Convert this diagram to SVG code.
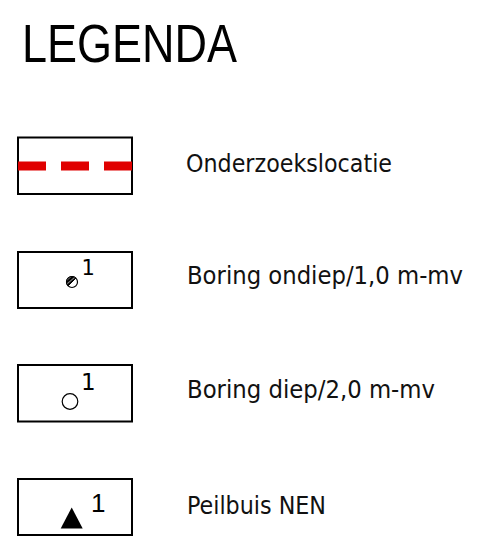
<svg xmlns="http://www.w3.org/2000/svg" width="477" height="540" viewBox="0 0 477 540">
  <defs>
    <style>
      .box { fill: #ffffff; stroke: #000000; stroke-width: 2; }
      .label { font-family: "DejaVu Sans Condensed", "DejaVu Sans", Verdana, sans-serif; font-stretch: condensed; font-size: 25px; fill: #111111; }
      .num { font-family: "DejaVu Sans", Verdana, sans-serif; font-size: 21px; fill: #000000; }
      .title { font-family: "Liberation Sans", Arial, sans-serif; font-size: 54px; fill: #000000; }
    </style>
    <pattern id="hatch" width="3" height="3" patternUnits="userSpaceOnUse" patternTransform="rotate(-40)">
      <rect width="3" height="3" fill="#000000"/>
      <line x1="0" y1="2.6" x2="3" y2="2.6" stroke="#ffffff" stroke-width="0.6"/>
    </pattern>
  </defs>
  <rect width="477" height="540" fill="#ffffff"/>

  <text class="title" x="22" y="62" textLength="215" lengthAdjust="spacingAndGlyphs">LEGENDA</text>

  <!-- survey area boundary -->
  <g id="onderzoekslocatie">
    <rect class="box" x="18" y="137.5" width="114" height="56.5"/>
    <line x1="18" y1="166" x2="132" y2="166" stroke="#e00000" stroke-width="9" stroke-dasharray="28 15"/>
    <text class="label" x="186" y="171.5" textLength="206" lengthAdjust="spacingAndGlyphs">Onderzoekslocatie</text>
  </g>

  <!-- shallow boring -->
  <g id="boring-ondiep">
    <rect class="box" x="18" y="252" width="114" height="56"/>
    <circle cx="72" cy="282" r="5.5" fill="#ffffff" stroke="#000000" stroke-width="1.2"/>
    <path d="M68.1,285.9 A5.5,5.5 0 0 1 75.9,278.1 Z" fill="url(#hatch)" stroke="#000000" stroke-width="1"/>
    <text class="num" x="81.5" y="274.5">1</text>
    <text class="label" x="187" y="284" textLength="276" lengthAdjust="spacingAndGlyphs">Boring ondiep/1,0 m-mv</text>
  </g>

  <!-- deep boring -->
  <g id="boring-diep">
    <rect class="box" x="18" y="365" width="114" height="56.5"/>
    <circle cx="70" cy="401.5" r="7.8" fill="#ffffff" stroke="#000000" stroke-width="1.2"/>
    <text class="num" x="81" y="389.5" style="font-size:23px">1</text>
    <text class="label" x="187" y="398" textLength="248" lengthAdjust="spacingAndGlyphs">Boring diep/2,0 m-mv</text>
  </g>

  <!-- monitoring well -->
  <g id="peilbuis">
    <rect class="box" x="18" y="479" width="114" height="56"/>
    <polygon points="71.7,507.5 82.7,528.5 60.7,528.5" fill="#000000"/>
    <text class="num" x="91" y="512" style="font-family:'Liberation Sans', Arial, sans-serif; font-size:26px">1</text>
    <text class="label" x="187" y="513.5" textLength="139" lengthAdjust="spacingAndGlyphs">Peilbuis NEN</text>
  </g>
</svg>
